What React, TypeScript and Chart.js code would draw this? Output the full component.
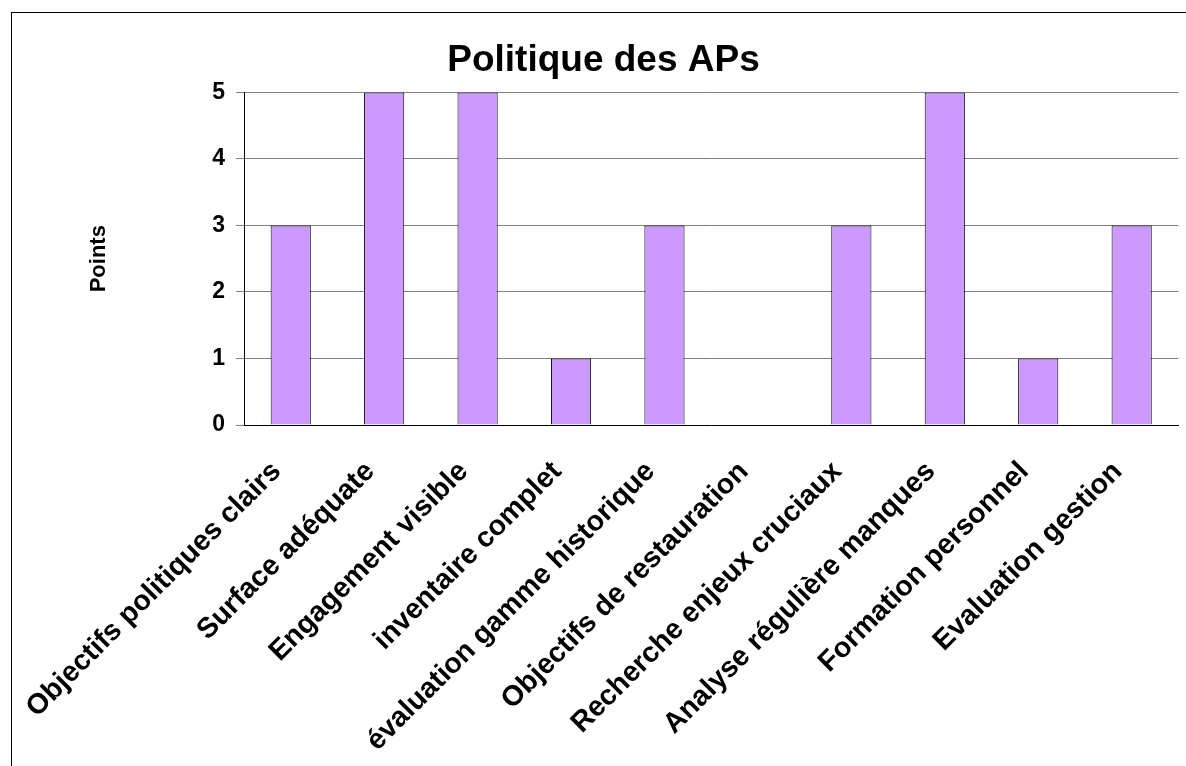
import React, { useEffect, useRef } from "react";
import { Chart, registerables } from "chart.js";

Chart.register(...registerables);

const categories: string[] = [
  "Objectifs politiques clairs",
  "Surface adéquate",
  "Engagement visible",
  "inventaire complet",
  "évaluation gamme historique",
  "Objectifs de restauration",
  "Recherche enjeux cruciaux",
  "Analyse régulière manques",
  "Formation personnel",
  "Evaluation gestion",
];

const points: number[] = [3, 5, 5, 1, 3, 0, 3, 5, 1, 3];

const yTicks: number[] = [0, 1, 2, 3, 4, 5];

const chartTitle = "Politique des APs";
const yTitle = "Points";

const FONT = "'Liberation Sans', Arial, sans-serif";

export default function App() {
  const ref = useRef<HTMLCanvasElement | null>(null);

  useEffect(() => {
    if (!ref.current) return;
    const chart = new Chart(ref.current, {
      type: "bar",
      data: {
        labels: categories,
        datasets: [
          {
            label: yTitle,
            data: points,
            backgroundColor: "#CC99FF",
            borderColor: "#000000",
            borderWidth: 1,
            barPercentage: 0.43,
            categoryPercentage: 1,
          },
        ],
      },
      options: {
        responsive: false,
        animation: false,
        devicePixelRatio: 1,
        layout: { padding: { left: 24, right: 3, top: 0, bottom: 0 } },
        plugins: {
          legend: { display: false },
          tooltip: { enabled: false },
          title: {
            display: true,
            text: chartTitle,
            color: "#000",
            font: { family: FONT, size: 37, weight: "bold" },
            padding: { top: 39, bottom: 9 },
          },
        },
        scales: {
          x: {
            offset: true,
            grid: {
              display: true,
              drawTicks: false,
              color: (ctx: any) => (ctx.index === categories.length ? "#808080" : "rgba(0,0,0,0)"),
            },
            border: { display: true, color: "#000", width: 1 },
            ticks: {
              autoSkip: false,
              maxRotation: 45,
              minRotation: 45,
              padding: 30,
              labelOffset: -14,
              color: "#000",
              font: { family: FONT, size: 28.5, weight: "bold" },
            },
            afterFit: (scale: any) => {
              scale.height = 341;
            },
          },
          y: {
            min: 0,
            max: 5,
            afterBuildTicks: (scale: any) => {
              scale.ticks = yTicks.map((v) => ({ value: v }));
            },
            grid: {
              color: "#808080",
              tickColor: "#808080",
              tickLength: 8,
            },
            border: { display: true, color: "#000", width: 1 },
            ticks: {
              padding: 11,
              color: "#000",
              font: { family: FONT, size: 23, weight: "bold" },
            },
            title: {
              display: true,
              text: yTitle,
              color: "#000",
              font: { family: FONT, size: 22, weight: "bold" },
              padding: { top: 62, bottom: 0 },
            },
            afterFit: (scale: any) => {
              scale.width = 220;
            },
          },
        },
      },
    });
    return () => chart.destroy();
  }, []);

  return (
    <div style={{ position: "absolute", left: 0, top: 0, width: 1186, height: 766, background: "#fff", overflow: "hidden" }}>
      <div
        style={{
          position: "absolute",
          left: 11,
          top: 12,
          width: 1300,
          height: 900,
          borderLeft: "1px solid #000",
          borderTop: "1px solid #000",
        }}
      />
      <canvas ref={ref} width={1186} height={766} style={{ position: "absolute", left: 0, top: 0 }} />
    </div>
  );
}
